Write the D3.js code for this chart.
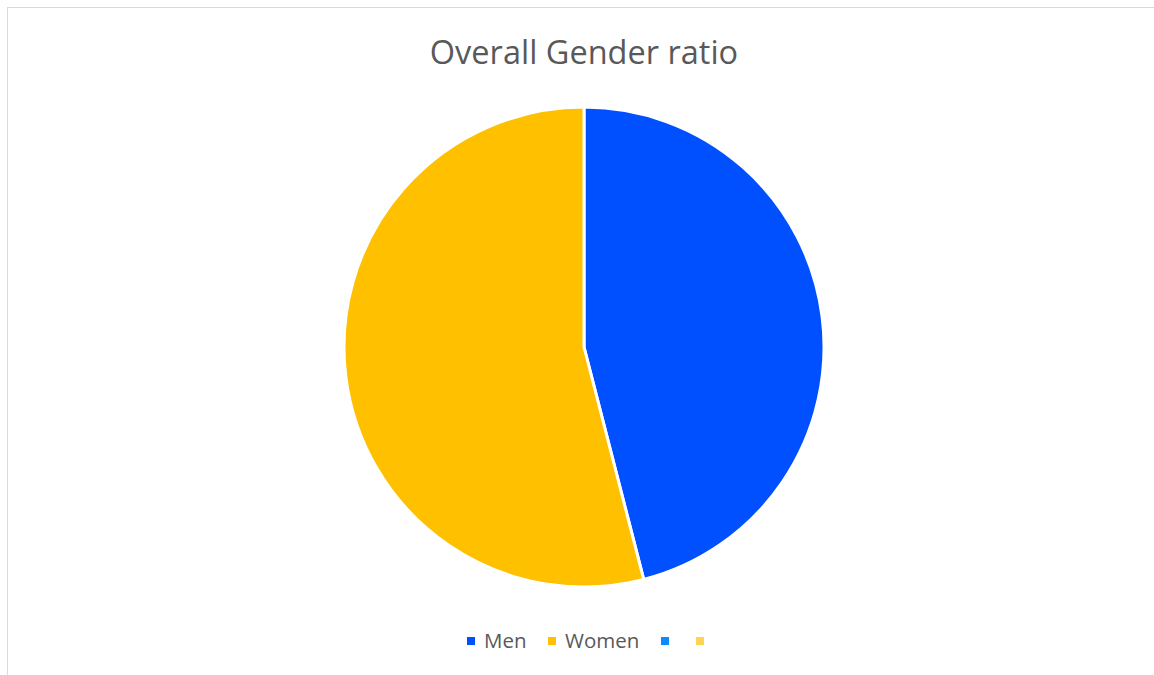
<!DOCTYPE html>
<html><head><meta charset="utf-8">
<script src="https://cdn.jsdelivr.net/npm/d3@7"></script>
<style>html,body{margin:0;padding:0;background:#fff;}svg{display:block;}</style>
</head><body>
<script>
const categories = ["Men", "Women", "", ""];
const values = [46, 54, 0, 0];
const colors = ["#0050FF", "#FFC000", "#0A8CFF", "#FFD451"];
const title = "Overall Gender ratio";

const W = 1154, H = 675;
const svg = d3.select("body").append("svg").attr("width", W).attr("height", H);
svg.append("rect").attr("x", 7.5).attr("y", 7.5).attr("width", W + 10).attr("height", H + 10)
  .attr("fill", "#fff").attr("stroke", "#d9d9d9").attr("stroke-width", 1);

svg.append("text").attr("x", 584).attr("y", 64).attr("text-anchor", "middle")
  .attr("font-family", "Open Sans, sans-serif").attr("font-size", 32.5).attr("fill", "#595959").text(title);

const data = categories.map((c, i) => ({c, v: values[i], col: colors[i]}));
const pie = d3.pie().sort(null).value(d => d.v);
const arc = d3.arc().innerRadius(0).outerRadius(240);
const g = svg.append("g").attr("transform", "translate(584,347)");
g.selectAll("path").data(pie(data).filter(d => d.data.v > 0)).join("path")
  .attr("d", arc).attr("fill", d => d.data.col).attr("stroke", "#fff").attr("stroke-width", 3).attr("stroke-linejoin", "round");

const legX = [467, 548, 661, 696];
const lg = svg.append("g");
data.forEach((d, i) => {
  lg.append("rect").attr("x", legX[i]).attr("y", 637).attr("width", 8).attr("height", 8).attr("fill", d.col);
  lg.append("text").attr("x", legX[i] + 17).attr("y", 648).attr("font-family", "Open Sans, sans-serif")
    .attr("font-size", 20.5).attr("fill", "#595959").text(d.c);
});
</script>
</body></html>
